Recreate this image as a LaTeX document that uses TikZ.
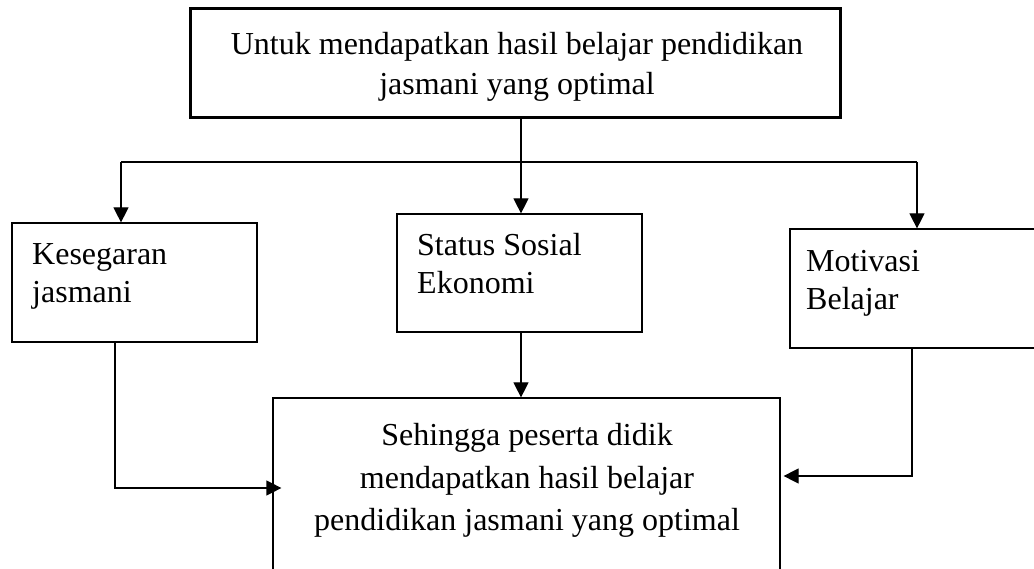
\documentclass[tikz,border=0pt]{standalone}
\usepackage{fontspec}
\setmainfont{Liberation Serif}
\usetikzlibrary{arrows.meta}
\begin{document}
\begin{tikzpicture}[x=1pt,y=-1pt,
  box/.style={draw,line width=1.2pt,rectangle,inner sep=0pt},
  lbl/.style={font=\fontsize{32}{40}\selectfont,inner sep=0pt},
  conn/.style={line width=1.2pt},
  arr/.style={conn,-{Triangle[length=15pt,width=15pt]}}]
\useasboundingbox (0,0) rectangle (1034,569);
\clip (0,0) rectangle (1034,569);
% boxes
\node[box,line width=3pt,minimum width=650pt,minimum height=109pt] (top) at (515,63.5) {};
\node[box,minimum width=245pt,minimum height=119pt] (left) at (134.5,282.5) {};
\node[box,minimum width=245pt,minimum height=118pt] (mid) at (519.5,273) {};
\node[box,minimum width=255pt,minimum height=119pt] (right) at (917.5,288.5) {};
\node[box,minimum width=507pt,minimum height=202pt] (bottom) at (526.5,499) {};
% texts
\node[lbl,anchor=base] (t1) at (517,55) {Untuk mendapatkan hasil belajar pendidikan};
\node[lbl,anchor=base] (t2) at (517,95) {jasmani yang optimal};
\node[lbl,anchor=base west] (l1) at (32,265) {Kesegaran};
\node[lbl,anchor=base west] (l2) at (32,303) {jasmani};
\node[lbl,anchor=base west] (m1) at (417,256) {Status Sosial};
\node[lbl,anchor=base west] (m2) at (417,294) {Ekonomi};
\node[lbl,anchor=base west] (r1) at (806,272) {Motivasi};
\node[lbl,anchor=base west] (r2) at (806,310) {Belajar};
\node[lbl,anchor=base] (b1) at (527,446) {Sehingga peserta didik};
\node[lbl,anchor=base] (b2) at (527,488) {mendapatkan hasil belajar};
\node[lbl,anchor=base] (b3) at (527,530) {pendidikan jasmani yang optimal};
% connectors
\coordinate (j) at (521,162);
\coordinate (jl) at (121,162);
\coordinate (jr) at (917,162);
\coordinate (lb) at (115,488);
\coordinate (rb) at (912,476);
\draw[conn] (j |- top.south) -- (j);
\draw[conn] (jl) -- (jr);
\draw[arr] (jl) -- (jl |- left.north);
\draw[arr] (j) -- (j |- mid.north);
\draw[arr] (jr) -- (jr |- right.north);
\draw[arr,shorten >=-9pt] (lb |- left.south) -- (lb) -- (bottom.west |- lb);
\draw[arr] (j |- mid.south) -- (j |- bottom.north);
\draw[arr,shorten >=3pt] (rb |- right.south) -- (rb) -- (bottom.east |- rb);
\end{tikzpicture}
\end{document}
